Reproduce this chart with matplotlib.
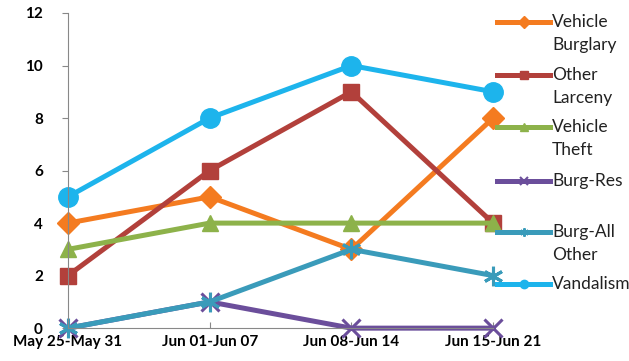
import matplotlib.pyplot as plt
from matplotlib.lines import Line2D

plt.rcParams['font.family'] = ['Lato', 'DejaVu Sans']

# Data
weeks = ["May 25-May 31", "Jun 01-Jun 07", "Jun 08-Jun 14", "Jun 15-Jun 21"]
vehicle_burglary = [4, 5, 3, 8]
other_larceny = [2, 6, 9, 4]
vehicle_theft = [3, 4, 4, 4]
burg_res = [0, 1, 0, 0]
burg_all_other = [0, 1, 3, 2]
vandalism = [5, 8, 10, 9]

labels = ["Vehicle\nBurglary", "Other\nLarceny", "Vehicle\nTheft",
          "Burg-Res", "Burg-All\nOther", "Vandalism"]
colors = ["#F47B20", "#B2403B", "#8DB24A", "#6B4E9B", "#3A9BBA", "#1DB4EC"]
markers = ["D", "s", "^", "x", (6, 2, 0), "o"]
sizes = [11, 11, 12, 13, 14, 14]

W, H = 629, 361
fig = plt.figure(figsize=(W / 100, H / 100), dpi=100)
ax = fig.add_axes([0.108, 0.091, 0.676, 0.873])

series = [vehicle_burglary, other_larceny, vehicle_theft,
          burg_res, burg_all_other, vandalism]
x = range(len(weeks))
for vals, c, m, s in zip(series, colors, markers, sizes):
    mew = 2.2 if m in ("x", (6, 2, 0)) else 1
    ax.plot(x, vals, color=c, lw=3.6, marker=m, ms=s, mec=c, mfc=c,
            mew=mew, clip_on=False)

ax.set_xlim(0, 3)
ax.set_ylim(0, 12)
ax.set_yticks(range(0, 13, 2))
ax.set_xticks(list(x))
ax.set_xticklabels(weeks, fontsize=11, fontweight="bold")
for t in ax.get_yticklabels():
    t.set_fontsize(11)
    t.set_fontweight("bold")

for sp in ["top", "right"]:
    ax.spines[sp].set_visible(False)
ax.spines["left"].set_color("#888888")
ax.spines["bottom"].set_color("#888888")
ax.tick_params(axis="y", length=4, color="#888888", pad=14)
ax.tick_params(axis="x", length=4, color="#888888", direction="in", pad=5)

# Legend drawn by hand (Excel style: key aligned with first text line)
entry_top = [22, 75, 127, 181, 232, 284]
line_h = 23
for lab, c, m, y in zip(labels, colors, markers, entry_top):
    fy = 1 - y / H
    mew = 1.5 if m in ("x", (6, 2, 0)) else 1
    fig.add_artist(Line2D([497 / W, 550 / W], [fy, fy], color=c, lw=3.6))
    fig.add_artist(Line2D([523.5 / W], [fy], color=c, marker=m, ms=6,
                          mec=c, mfc=c, mew=mew))
    for i, part in enumerate(lab.split("\n")):
        fig.text(552 / W, 1 - (y + i * line_h) / H, part, fontsize=12.5,
                 ha="left", va="center", color="#222222")

plt.savefig("out.png", dpi=100)
